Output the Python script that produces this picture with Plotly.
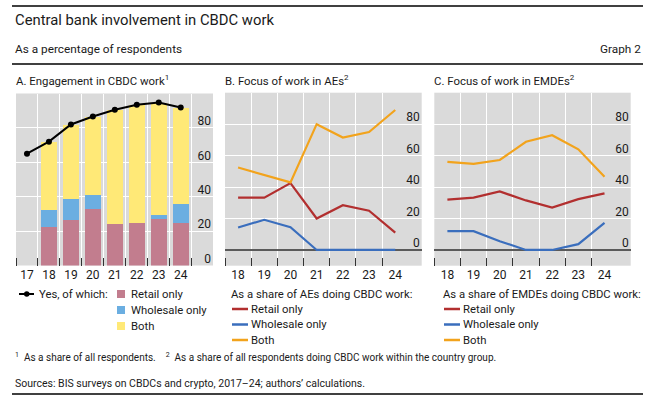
import plotly.graph_objects as go

W, H = 658, 399
FONT = "Roboto"
TXT = "#1a1a1a"

# ---------------- data ----------------
years_a = ["17", "18", "19", "20", "21", "22", "23", "24"]
yes_total = [65.0, 72.0, 82.0, 86.6, 90.5, 93.5, 94.7, 91.9]
retail_a = [None, 22.9, 27.0, 33.4, 24.7, 25.2, 27.6, 25.2]
wholesale_a = [None, 9.9, 12.2, 7.6, 0.0, 0.0, 2.3, 11.1]
both_a = [None, 39.2, 43.0, 45.6, 65.8, 68.3, 64.8, 55.6]

years_bc = ["18", "19", "20", "21", "22", "23", "24"]
ae_retail = [33.3, 33.3, 42.5, 20.0, 28.5, 25.0, 11.0]
ae_wholesale = [14.3, 19.2, 14.5, 0.0, 0.0, 0.0, 0.0]
ae_both = [52.4, 47.5, 43.0, 80.0, 71.5, 75.0, 89.0]
emde_retail = [32.0, 33.3, 37.2, 31.5, 27.0, 32.3, 36.0]
emde_wholesale = [12.0, 12.0, 5.6, 0.0, 0.0, 3.7, 17.2]
emde_both = [56.0, 54.7, 57.2, 68.8, 73.0, 64.0, 46.5]

y_ticks = [0, 20, 40, 60, 80]

# ---------------- colours ----------------
C_PINK, C_LBLUE, C_YEL = "#C27D8E", "#6BAEE1", "#FFE977"
C_RED, C_BLUE, C_ORA = "#B22F2F", "#3A6EBD", "#F2A31C"
BG = "#DADADA"

xa = list(range(len(years_a)))
xb = list(range(len(years_bc)))

fig = go.Figure()

# Panel A
for name, vals, col in [("Retail only", retail_a, C_PINK),
                        ("Wholesale only", wholesale_a, C_LBLUE),
                        ("Both", both_a, C_YEL)]:
    fig.add_trace(go.Bar(x=xa, y=vals, name=name, marker=dict(color=col, line=dict(width=0)),
                         width=0.73, xaxis="x", yaxis="y", showlegend=False))
fig.add_trace(go.Scatter(x=xa, y=yes_total, name="Yes, of which:", mode="lines+markers",
                         line=dict(color="black", width=2), marker=dict(size=6, color="black"),
                         xaxis="x", yaxis="y", showlegend=False))

# Panel B and C
for ax, (r, w, b) in [("2", (ae_retail, ae_wholesale, ae_both)),
                      ("3", (emde_retail, emde_wholesale, emde_both))]:
    for name, vals, col in [("Retail only", r, C_RED), ("Wholesale only", w, C_BLUE), ("Both", b, C_ORA)]:
        fig.add_trace(go.Scatter(x=xb, y=vals, name=name, mode="lines",
                                 line=dict(color=col, width=2.2),
                                 xaxis="x" + ax, yaxis="y" + ax, showlegend=False))


def px(x):
    return x / W


def py(y):
    return 1 - y / H


def xaxis_cfg(dom, n, rmax, right_tick):
    nb = n + 1 if right_tick else n
    return dict(domain=[px(dom[0]), px(dom[1])], range=[-0.5, rmax],
                tickmode="array", tickvals=list(range(n)), ticks="", showgrid=False,
                zeroline=False, showline=False, fixedrange=True,
                tickfont=dict(family=FONT, size=12, color=TXT),
                minor=dict(tickmode="array", tickvals=[i - 0.5 for i in range(nb)],
                           ticks="inside", ticklen=8, tickwidth=1.4, tickcolor="#333333",
                           showgrid=True, gridcolor="white", gridwidth=1.2))


def yaxis_cfg(xright, dom, rng, zl):
    # labels drawn just left of the right edge of the grey panel
    return dict(anchor="free", position=px(xright), domain=[py(dom[1]), py(dom[0])], range=rng,
                side="left", tickmode="array", tickvals=y_ticks, ticks="",
                ticklabelshift=-7, ticklabelstandoff=2, showgrid=True, gridcolor="white", gridwidth=1.2,
                zeroline=zl, zerolinecolor="#5a5a5a", zerolinewidth=1.6, showline=False,
                fixedrange=True, tickfont=dict(family=FONT, size=12, color=TXT))


xa_cfg = xaxis_cfg((16, 213), 8, 8.47, True)
xa_cfg["ticktext"] = years_a
xb_cfg = xaxis_cfg((225, 421.7), 7, 7.01, False)
xb_cfg["ticktext"] = years_bc
xc_cfg = xaxis_cfg((434.3, 630.7), 7, 7.0, False)
xc_cfg["ticktext"] = years_bc

fig.update_layout(
    width=W, height=H, margin=dict(l=0, r=0, t=0, b=0),
    paper_bgcolor="white", plot_bgcolor=BG, barmode="stack", bargap=0,
    font=dict(family=FONT, size=12, color=TXT),
    xaxis=dict(xa_cfg, anchor="y"),
    yaxis=yaxis_cfg(213, (93.5, 265.5), [0, 100], False),
    xaxis2=dict(xb_cfg, anchor="y2"),
    yaxis2=yaxis_cfg(421.7, (92.7, 265.7), [-10, 100], True),
    xaxis3=dict(xc_cfg, anchor="y3"),
    yaxis3=yaxis_cfg(630.7, (92.7, 265.7), [-10, 100], True),
    showlegend=False,
)

ann = []


def text(x, y, s, size=12, anchor="left"):
    ann.append(dict(x=px(x), y=py(y), xref="paper", yref="paper", text=s, showarrow=False,
                    xanchor=anchor, yanchor="middle", font=dict(family=FONT, size=size, color=TXT)))


text(13, 20, "Central bank involvement in CBDC work", 14.8)
text(13, 49, "As a percentage of respondents", 11.8)
text(643, 49, "Graph 2", 11.8, "right")
text(14, 80, "A. Engagement in CBDC work<sup>1</sup>", 11.4)
text(223, 80, "B. Focus of work in AEs<sup>2</sup>", 11.4)
text(432, 80, "C. Focus of work in EMDEs<sup>2</sup>", 11.4)

# legends
LF = 11.3
text(37, 294, "Yes, of which:", LF)
for i, lab in enumerate(["Retail only", "Wholesale only", "Both"]):
    text(129, 294 + 16 * i, lab, LF)
text(229, 294, "As a share of AEs doing CBDC work:", LF)
text(441, 294, "As a share of EMDEs doing CBDC work:", LF)
for i, lab in enumerate(["Retail only", "Wholesale only", "Both"]):
    text(249, 309 + 15.5 * i, lab, LF)
    text(461, 309 + 15.5 * i, lab, LF)

text(13, 357, "<sup>1</sup>  As a share of all respondents.    <sup>2</sup>  As a share of all respondents doing CBDC work within the country group.", 10)
text(13, 383, "Sources: BIS surveys on CBDCs and crypto, 2017–24; authors’ calculations.", 10.5)

shapes = []


def hline(y, x0=12, x1=643, w=1.3):
    shapes.append(dict(type="line", xref="paper", yref="paper", x0=px(x0), x1=px(x1),
                       y0=py(y), y1=py(y), line=dict(color="black", width=w)))


hline(6)
hline(64)
hline(394)

# legend swatches
shapes.append(dict(type="line", xref="paper", yref="paper", x0=px(19), x1=px(34), y0=py(294),
                   y1=py(294), line=dict(color="black", width=2)))
shapes.append(dict(type="circle", xref="paper", yref="paper", x0=px(24), x1=px(29.5), y0=py(296.7),
                   y1=py(291.3), fillcolor="black", line=dict(width=0)))
for i, col in enumerate([C_PINK, C_LBLUE, C_YEL]):
    yc = 294 + 16 * i
    shapes.append(dict(type="rect", xref="paper", yref="paper", x0=px(117), x1=px(125),
                       y0=py(yc + 4), y1=py(yc - 4), fillcolor=col, line=dict(width=0)))
for i, col in enumerate([C_RED, C_BLUE, C_ORA]):
    yc = 309 + 15.5 * i
    for x0 in (232, 444):
        shapes.append(dict(type="line", xref="paper", yref="paper", x0=px(x0), x1=px(x0 + 16),
                           y0=py(yc), y1=py(yc), line=dict(color=col, width=2.5)))

fig.update_layout(annotations=ann, shapes=shapes)
fig.write_html("out.html", config={"displayModeBar": False},
               post_script="document.body.style.margin='0px';document.body.style.overflow='hidden';")
